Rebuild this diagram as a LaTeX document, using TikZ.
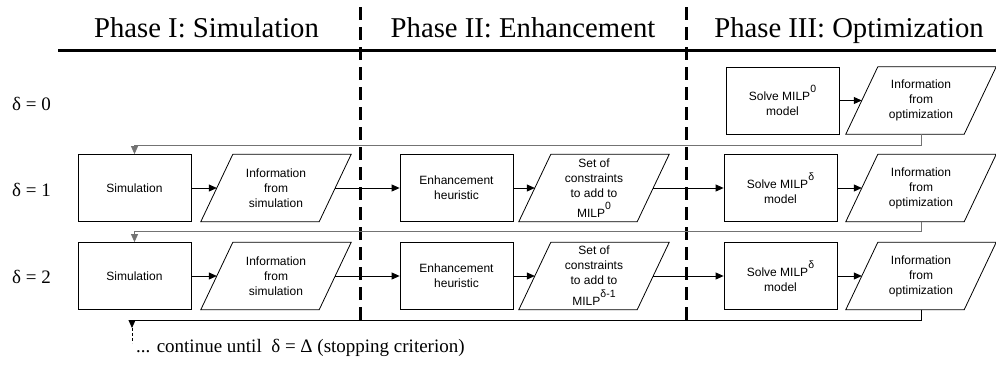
\documentclass[tikz,border=0pt]{standalone}
\usepackage{fontspec}
\setmainfont{Liberation Serif}
\newfontfamily\boxfont{Liberation Sans}
\usetikzlibrary{arrows.meta}
\newcommand\paral[4]{%
  \node[datanode] (#1) at (#2,#3) {#4};
  \draw[line width=0.8pt] ([xshift=16pt]#1.north west) -- ([xshift=16pt]#1.north east)
     -- ([xshift=-16pt]#1.south east) -- ([xshift=-16pt]#1.south west) -- cycle;}
\newcommand\myexp[1]{\raisebox{8pt}{\fontsize{10.5}{11}\selectfont #1}}
\begin{document}
\begin{tikzpicture}[x=1pt,y=-1pt,
  proc/.style={draw, line width=0.8pt, minimum width=113pt, minimum height=67pt,
    align=center, inner sep=0pt, font=\boxfont\fontsize{12}{15}\selectfont},
  datanode/.style={minimum width=118pt, minimum height=67pt, align=center,
    inner sep=0pt, font=\boxfont\fontsize{12}{15}\selectfont},
  flow/.style={-{Triangle[length=8pt,width=7pt]}, line width=0.8pt},
  back/.style={flow, draw=black!55},
  phase/.style={font=\fontsize{28.7}{34}\selectfont, inner sep=0pt, anchor=base},
  rowlab/.style={font=\fontsize{19}{23}\selectfont, inner sep=0pt, anchor=west},
  divider/.style={line width=3pt, dash pattern=on 13pt off 7pt}]
\useasboundingbox (0,0) rectangle (996,367);

% header
\node[phase] (ph1) at (206.5,37) {Phase I: Simulation};
\node[phase] (ph2) at (523,37) {Phase II: Enhancement};
\node[phase] (ph3) at (849,37) {Phase III: Optimization};
\coordinate (hl) at (58,50);
\coordinate (hr) at (996,50);
\draw[line width=3pt] (hl) -- (hr);

% dividers
\coordinate (d1t) at (360,7);  \coordinate (d1b) at (360,326);
\coordinate (d2t) at (686,7);  \coordinate (d2b) at (686,326);
\draw[divider] (d1t) -- (d1b);
\draw[divider] (d2t) -- (d2b);

% row labels
\node[rowlab] (l0) at (12,104) {δ = 0};
\node[rowlab] (l1) at (12,190) {δ = 1};
\node[rowlab] (l2) at (12,277) {δ = 2};

% row 0
\node[proc] (so0) at (782.5,100.5) {Solve MILP\myexp{0}\\model};
\paral{io0}{921}{100.5}{Information\\from\\optimization}
\draw[flow] (so0) -- (io0.west);

% row 1
\node[proc] (sim1) at (134.5,188) {Simulation};
\paral{is1}{276}{188}{Information\\from\\simulation}
\node[proc] (en1) at (456.5,188) {Enhancement\\heuristic};
\paral{sc1}{594}{188}{Set of\\constraints\\to add to\\[4pt]MILP\myexp{0}}
\node[proc] (so1) at (780.5,188) {Solve MILP\myexp{δ}\\model};
\paral{io1}{921}{188}{Information\\from\\optimization}
\draw[flow] (sim1) -- (is1.west);
\draw[flow] (is1.east) -- (en1);
\draw[flow] (en1) -- (sc1.west);
\draw[flow] (sc1.east) -- (so1);
\draw[flow] (so1) -- (io1.west);

% row 2
\node[proc] (sim2) at (134.5,276) {Simulation};
\paral{is2}{276}{276}{Information\\from\\simulation}
\node[proc] (en2) at (456.5,276) {Enhancement\\heuristic};
\paral{sc2}{594}{276}{Set of\\constraints\\to add to\\[4pt]MILP\myexp{δ-1}}
\node[proc] (so2) at (780.5,276) {Solve MILP\myexp{δ}\\model};
\paral{io2}{921}{276}{Information\\from\\optimization}
\draw[flow] (sim2) -- (is2.west);
\draw[flow] (is2.east) -- (en2);
\draw[flow] (en2) -- (sc2.west);
\draw[flow] (sc2.east) -- (so2);
\draw[flow] (so2) -- (io2.west);

% feedback loops
\coordinate (f1) at (134.5,145);
\coordinate (f2) at (134.5,231);
\coordinate (f3) at (132,320);
\coordinate (tip) at (132,328);
\coordinate (dend) at (132,343);
\draw[back] (io0.south) |- (f1) -- (sim1.north);
\draw[back] (io1.south) |- (f2) -- (sim2.north);
\draw[flow] (io2.south) |- (f3) -- (tip);
\draw[line width=0.6pt, dash pattern=on 3pt off 2pt] (tip) -- (dend);

\node[font=\fontsize{19}{23}\selectfont, inner sep=0pt, anchor=west] (cont) at (136,348)
  {... continue until \ δ = Δ (stopping criterion)};
\end{tikzpicture}
\end{document}
